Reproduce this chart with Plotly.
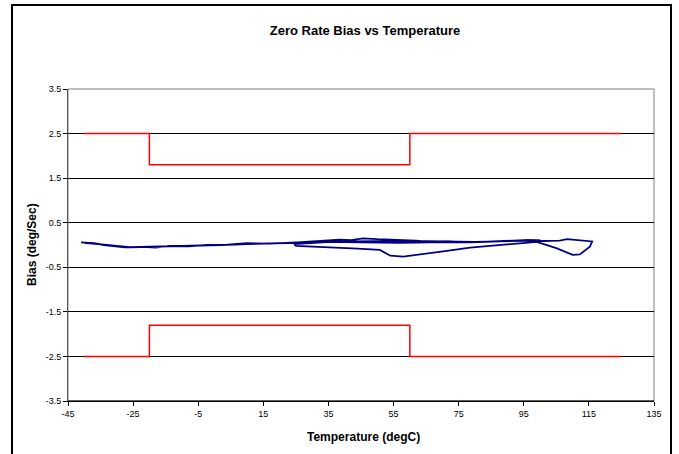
import plotly.graph_objects as go

# Limit lines (upper/lower spec)
limit_x = [-40, -20, -20, 60, 60, 125]
upper_limit = [2.5, 2.5, 1.8, 1.8, 2.5, 2.5]
lower_limit = [-2.5, -2.5, -1.8, -1.8, -2.5, -2.5]

# Measured bias vs temperature (hysteresis loop)
temp = [-41, -37, -34, -30, -27.5, -22, -18, -13.7, -8, -2.3, 4, 10, 17, 25.3, 32.4, 38.5, 42, 45.6, 50, 57, 62, 66, 72, 78.5, 88, 96, 101, 106, 108.3, 110, 113, 116,
        115.3, 112.2, 110, 105, 99, 87.7, 78.5, 71.4, 64, 58, 54, 50.8, 44, 38.5, 25,
        24.5, 35.5, 45, 57, 66, 78.5, 90, 100,
        95, 80, 60, 40, 25, 17, 10, 2, -5, -12, -20, -26, -30, -36, -40]
bias = [0.06, 0.04, 0.0, -0.03, -0.05, -0.04, -0.06, -0.02, -0.03, 0.0, 0.01, 0.04, 0.03, 0.06, 0.10, 0.12, 0.11, 0.15, 0.13, 0.12, 0.10, 0.07, 0.08, 0.06, 0.08, 0.11, 0.09, 0.10, 0.13, 0.12, 0.10, 0.08,
        -0.04, -0.21, -0.22, -0.07, 0.07, 0.0, -0.06, -0.13, -0.20, -0.26, -0.24, -0.11, -0.08, -0.06, -0.02,
        0.02, 0.07, 0.06, 0.05, 0.06, 0.06, 0.09, 0.10,
        0.09, 0.07, 0.09, 0.08, 0.05, 0.04, 0.02, 0.0, -0.01, -0.03, -0.04, -0.05, -0.02, 0.02, 0.05]

x_ticks = [-45, -25, -5, 15, 35, 55, 75, 95, 115, 135]
y_ticks = [3.5, 2.5, 1.5, 0.5, -0.5, -1.5, -2.5, -3.5]

fig = go.Figure()
fig.add_trace(go.Scatter(x=limit_x, y=upper_limit, mode="lines",
                         line=dict(color="#FF0000", width=1.5), showlegend=False))
fig.add_trace(go.Scatter(x=limit_x, y=lower_limit, mode="lines",
                         line=dict(color="#FF0000", width=1.5), showlegend=False))
fig.add_trace(go.Scatter(x=temp, y=bias, mode="lines",
                         line=dict(color="#000080", width=1.8), showlegend=False))

W, H = 679, 454
font = "Arial, Liberation Sans, sans-serif"
fig.update_layout(
    width=W, height=H,
    margin=dict(l=68, r=W - 654, t=89, b=H - 401),
    paper_bgcolor="white", plot_bgcolor="white",
    font=dict(family=font, size=9, color="#000000"),
    title=dict(text="<b>Zero Rate Bias vs Temperature</b>", x=365 / W, xanchor="center",
               y=1 - 30 / H, yanchor="middle", yref="container",
               font=dict(family=font, size=13, color="#000000")),
    xaxis=dict(range=[-45, 135], tickvals=x_ticks, ticktext=[str(v) for v in x_ticks],
               showgrid=False, zeroline=False, showline=True, linecolor="#000000", linewidth=1,
               ticks="outside", ticklen=4, tickcolor="#000000", mirror=False,
               tickfont=dict(size=9, color="#000000")),
    yaxis=dict(range=[-3.5, 3.5], tickvals=y_ticks, ticktext=[str(v) for v in y_ticks],
               showgrid=True, gridcolor="#000000", gridwidth=1, zeroline=False,
               showline=True, linecolor="#555555", linewidth=1,
               ticks="outside", ticklen=4, tickcolor="#000000",
               tickfont=dict(size=9, color="#000000")),
)

# plot area border (top/right gray)
fig.add_shape(type="rect", xref="paper", yref="paper", x0=0, x1=1, y0=0, y1=1,
              line=dict(color="#808080", width=1), layer="below")
# bottom axis line black on top
fig.add_shape(type="line", xref="paper", yref="paper", x0=0, x1=1, y0=0, y1=0,
              line=dict(color="#000000", width=1))
# outer chart frame
fig.add_shape(type="rect", xref="paper", yref="paper",
              x0=(12 - 68) / 586, x1=(671 - 68) / 586,
              y0=(401 - 470) / 312, y1=(401 - 5) / 312,
              line=dict(color="#000000", width=2))

fig.add_annotation(text="<b>Temperature (degC)</b>", xref="paper", yref="paper",
                   x=(363 - 68) / 586, y=(401 - 437) / 312, xanchor="center", yanchor="middle",
                   showarrow=False, font=dict(family=font, size=12, color="#000000"))
fig.add_annotation(text="<b>Bias (deg/Sec)</b>", xref="paper", yref="paper",
                   x=(32 - 68) / 586, y=(401 - 245) / 312, xanchor="center", yanchor="middle",
                   textangle=-90, showarrow=False, font=dict(family=font, size=12, color="#000000"))

fig.write_html("out.html", config={"displayModeBar": False},
               post_script="document.body.style.margin='0';document.body.style.overflow='hidden';")
